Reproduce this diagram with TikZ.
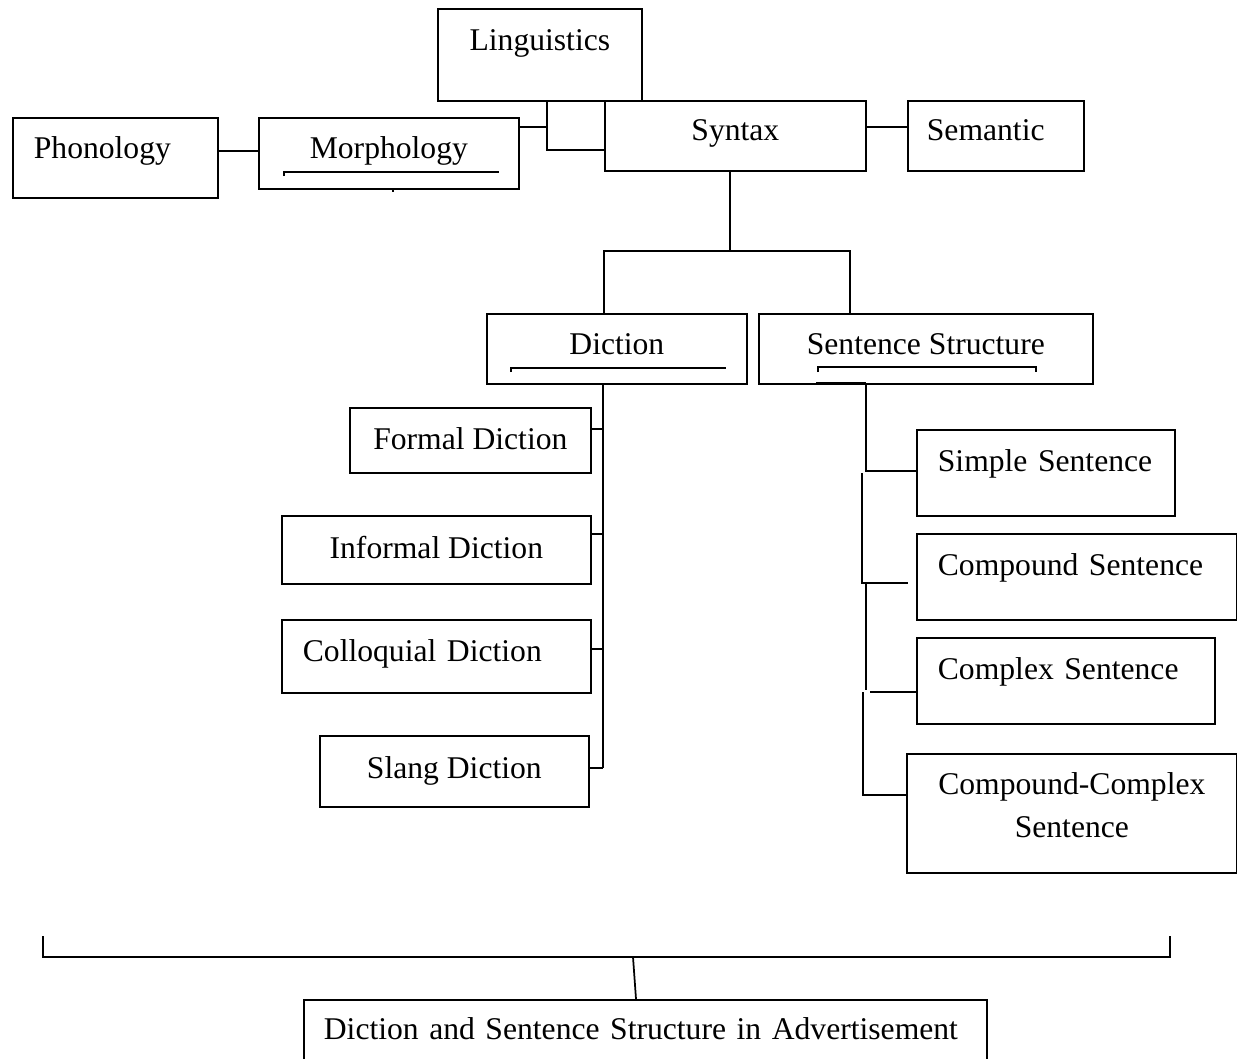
\documentclass[tikz,border=0pt]{standalone}
\usepackage{fontspec}
\setmainfont{Liberation Serif}
\usepackage{tikz}

\begin{document}
\begin{tikzpicture}[x=0.02cm, y=-0.02cm,
    box/.style={draw, line width=1pt, anchor=north west, inner sep=0pt,
      font=\fontsize{18}{24}\selectfont},
    lbox/.style={box, align=left, inner xsep=#1},
    link/.style={line width=1pt},
    rule/.style={line width=0.8pt}]
    \useasboundingbox (0,0) rectangle (1237,1058);
    \clip (0,0) rectangle (1237,1058);
    % Top row
    \node [box, minimum width=4.08cm, text height=0.84cm, text depth=1cm] (ling) at (437,8) {Linguistics};
    \node [lbox=0.42cm, text width=3.26cm, text height=0.82cm, text depth=0.78cm] (phon) at (12,117) {Phonology};
    \node [box, minimum width=5.2cm, text height=0.82cm, text depth=0.6cm] (morph) at (258,117) {Morphology};
    \node [box, minimum width=5.22cm, text height=0.8cm, text depth=0.6cm] (syn) at (604,100) {Syntax};
    \node [lbox=0.38cm, text width=2.76cm, text height=0.8cm, text depth=0.6cm] (sem) at (907,100) {Semantic};
    % Second row
    \node [box, minimum width=5.2cm, text height=0.82cm, text depth=0.58cm] (dic) at (486,313) {Diction};
    \node [box, minimum width=6.68cm, text height=0.82cm, text depth=0.58cm] (sst) at (758,313) {Sentence Structure};
    % Kinds of diction
    \node [box, minimum width=4.82cm, text height=0.84cm, text depth=0.46cm] (formal) at (349,407) {Formal Diction};
    \node [box, minimum width=6.18cm, text height=0.86cm, text depth=0.5cm] (informal) at (281,515) {Informal Diction};
    \node [lbox=0.42cm, text width=5.34cm, text height=0.84cm, text depth=0.62cm] (colloq) at (281,619) {Colloquial~Diction};
    \node [box, minimum width=5.38cm, text height=0.86cm, text depth=0.56cm] (slang) at (319,735) {Slang Diction};
    % Kinds of sentence
    \node [lbox=0.42cm, text width=4.32cm, text height=0.84cm, text depth=0.88cm] (simple) at (916,429) {Simple~Sentence};
    \node [lbox=0.42cm, text width=5.56cm, text height=0.84cm, text depth=0.88cm] (compound) at (916,533) {Compound~Sentence};
    \node [lbox=0.42cm, text width=5.12cm, text height=0.84cm, text depth=0.88cm] (complex) at (916,637) {Complex~Sentence};
    \node [box, align=center, inner xsep=0.2cm, text width=6.2cm, text height=0.82cm, text depth=1.56cm] (cc) at (906,753) {Compound-Complex\\Sentence};
    % Result
    \node [lbox=0.4cm, text width=12.86cm, text height=0.8cm, text depth=0.8cm] (adv) at (303,999) {Diction and Sentence Structure in Advertisement};

    % Top connectors
    \draw [link] (phon.east |- 0,151) -- (morph.west |- 0,151);
    \draw [link] (morph.east |- 0,127) -- (547,127);
    \draw [link] (ling.south -| 547,0) -- (547,150) -- (syn.west |- 0,150);
    \draw [link] (syn.east |- 0,127) -- (sem.west |- 0,127);
    % Syntax splits
    \draw [link] (syn.south -| 730,0) -- (730,251);
    \draw [link] (dic.north -| 604,0) -- (604,251) -- (850,251) -- (sst.north -| 850,0);
    % Diction branches
    \draw [link] (dic.south -| 603,0) -- (603,768);
    \foreach \n/\y in {formal/429, informal/534, colloq/649, slang/768}
      \draw [link] (\n.east |- 0,\y) -- (603,\y);
    % Sentence branches
    \draw [link] (sst.south -| 866,0) -- (866,471) -- (simple.west |- 0,471);
    \draw [link] (862,473) -- (862,583) -- ([xshift=-0.16cm]compound.west |- 0,583);
    \draw [link] (866,583) -- (866,690);
    \draw [link] (870,692) -- (complex.west |- 0,692);
    \draw [link] (863,692) -- (863,795) -- (cc.west |- 0,795);
    \draw [line width=1.6pt] (816,383) -- (866,383);
    % Underlines
    \draw [rule] (284,176) -- (284,172) -- (499,172);
    \draw [rule] (393,188) -- (393,192);
    \draw [rule] (511,372) -- (511,368) -- (726,368);
    \draw [rule] (818,372) -- (818,367) -- (1036,367) -- (1036,372);
    % Bracket
    \draw [link] (43,936) -- (43,957) -- (1170,957) -- (1170,936);
    \draw [link] (633,957) -- (adv.north -| 636,0);
\end{tikzpicture}
\end{document}
